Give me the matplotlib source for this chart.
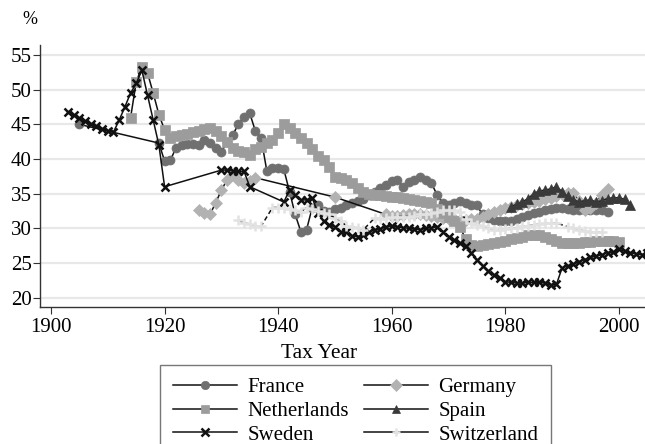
import matplotlib
matplotlib.use('Agg')
import matplotlib.pyplot as plt
from matplotlib.lines import Line2D

plt.rcParams['font.family'] = ['Liberation Serif', 'DejaVu Serif']

# --- dados (%)
fr_anos = [1905, 1919, 1920, 1921, 1922, 1923, 1924, 1925, 1926, 1927, 1928, 1929, 1930,
           1931, 1932, 1933, 1934, 1935, 1936, 1937, 1938, 1939, 1940, 1941, 1942, 1943,
           1944, 1945, 1946, 1947, 1948, 1949, 1950, 1951, 1952, 1953, 1954, 1955, 1956,
           1957, 1958, 1959, 1960, 1961, 1962, 1963, 1964, 1965, 1966, 1967, 1968, 1969,
           1970, 1971, 1972, 1973, 1974, 1975, 1976, 1977, 1978, 1979, 1980, 1981, 1982,
           1983, 1984, 1985, 1986, 1987, 1988, 1989, 1990, 1991, 1992, 1993, 1994, 1995,
           1996, 1997, 1998]
fr_val = [45.0, 42.3, 39.7, 39.8, 41.6, 42.0, 42.2, 42.1, 42.0, 42.8, 42.3, 41.6, 41.0,
          42.5, 43.5, 45.0, 46.1, 46.6, 44.0, 43.0, 38.3, 38.7, 38.7, 38.5, 35.3, 32.0,
          29.5, 29.8, 33.0, 33.4, 32.5, 32.4, 32.8, 33.0, 33.3, 33.7, 34.0, 34.3, 34.8,
          35.3, 35.8, 36.3, 36.8, 37.0, 36.0, 36.7, 37.0, 37.4, 37.0, 36.5, 34.8, 33.6,
          33.4, 33.7, 34.0, 33.6, 33.4, 33.3, 32.0, 31.5, 31.2, 31.0, 31.0, 31.1, 31.3,
          31.6, 31.9, 32.2, 32.4, 32.6, 32.8, 33.0, 32.9, 32.8, 32.7, 32.7, 32.6, 32.6,
          32.7, 32.6, 32.4]

de_anos = [1926, 1927, 1928, 1929, 1930, 1931, 1932, 1933, 1934, 1935, 1936, 1950, 1959,
           1960, 1961, 1962, 1963, 1964, 1965, 1966, 1967, 1968, 1969, 1970, 1971, 1972,
           1973, 1974, 1975, 1976, 1977, 1978, 1979, 1980, 1981, 1982, 1983, 1984, 1985,
           1986, 1987, 1988, 1989, 1990, 1991, 1992, 1993, 1994, 1995, 1996, 1997, 1998]
de_val = [32.6, 32.2, 32.0, 33.7, 35.5, 37.0, 37.8, 37.0, 36.5, 36.8, 37.3, 34.5, 32.0,
          31.8, 31.8, 31.9, 32.0, 32.0, 32.0, 31.9, 31.8, 31.6, 31.5, 31.4, 31.3, 31.2,
          31.2, 31.3, 31.4, 31.7, 32.1, 32.4, 32.7, 32.9, 33.1, 33.3, 33.5, 33.7, 33.8,
          34.0, 34.2, 34.4, 34.7, 35.0, 35.1, 35.1, 34.0, 32.7, 33.0, 33.7, 34.8, 35.7]

nl_anos = list(range(1914, 2001))
nl_val = [45.9, 51.1, 53.3, 52.4, 49.5, 46.4, 44.2, 43.0, 43.3, 43.5, 43.6, 43.9, 44.0,
          44.3, 44.5, 44.0, 43.3, 42.4, 41.6, 41.2, 41.0, 40.6, 41.5, 41.8, 42.3, 42.8,
          43.8, 45.0, 44.5, 43.8, 43.0, 42.3, 41.4, 40.5, 39.8, 38.8, 37.4, 37.3, 37.0,
          36.5, 35.8, 35.3, 34.9, 34.8, 34.8, 34.6, 34.5, 34.5, 34.4, 34.2, 34.1, 33.9,
          33.8, 33.6, 32.8, 32.2, 31.7, 31.0, 30.2, 28.5, 27.6, 27.5, 27.6, 27.7, 27.9,
          28.0, 28.2, 28.4, 28.6, 28.8, 29.0, 29.1, 29.0, 28.7, 28.4, 28.1, 27.9, 27.9,
          27.9, 27.9, 28.0, 28.0, 28.1, 28.1, 28.1, 28.1, 28.0]

es_anos = list(range(1981, 2003))
es_val = [33.1, 33.5, 33.8, 34.3, 35.0, 35.4, 35.5, 35.7, 36.0, 35.3, 34.6, 34.1, 33.8,
          34.0, 34.1, 33.8, 34.0, 34.3, 34.4, 34.4, 34.2, 33.4]

se_anos = [1903, 1904, 1905, 1906, 1907, 1908, 1909, 1910, 1911, 1912, 1913, 1914, 1915,
           1916, 1917, 1918, 1919, 1920, 1930, 1931, 1932, 1933, 1934, 1935, 1941, 1942,
           1943, 1944, 1945, 1946, 1947, 1948, 1949, 1950, 1951, 1952, 1953, 1954, 1955,
           1956, 1957, 1958, 1959, 1960, 1961, 1962, 1963, 1964, 1965, 1966, 1967, 1968,
           1969, 1970, 1971, 1972, 1973, 1974, 1975, 1976, 1977, 1978, 1979, 1980, 1981,
           1982, 1983, 1984, 1985, 1986, 1987, 1988, 1989, 1990, 1991, 1992, 1993, 1994,
           1995, 1996, 1997, 1998, 1999, 2000, 2001, 2002, 2003, 2004, 2005]
se_val = [46.8, 46.3, 45.9, 45.5, 45.1, 44.8, 44.4, 44.1, 43.9, 45.6, 47.5, 49.5, 50.9,
          52.8, 49.2, 45.6, 42.0, 36.0, 38.4, 38.4, 38.3, 38.2, 38.2, 36.0, 33.8, 35.5,
          34.8, 34.1, 34.1, 34.4, 32.2, 31.0, 30.5, 30.2, 29.5, 29.4, 28.9, 28.8, 29.1,
          29.4, 29.8, 29.9, 30.2, 30.3, 30.2, 30.1, 30.0, 29.9, 29.8, 30.0, 30.1, 30.2,
          29.5, 28.8, 28.3, 27.9, 27.4, 26.5, 25.5, 24.6, 23.8, 23.3, 22.9, 22.3, 22.2,
          22.1, 22.1, 22.2, 22.2, 22.2, 22.1, 21.8, 21.9, 24.3, 24.6, 24.8, 25.2, 25.5,
          25.8, 26.0, 26.2, 26.5, 26.6, 27.0, 26.7, 26.5, 26.3, 26.2, 26.4]

ch_anos = [1933, 1934, 1935, 1936, 1937, 1939, 1940, 1941, 1942, 1943, 1944, 1945, 1946,
           1947, 1948, 1949, 1950, 1951, 1952, 1953, 1954, 1955, 1957, 1958, 1959, 1960,
           1961, 1962, 1963, 1964, 1965, 1966, 1967, 1968, 1969, 1970, 1971, 1972, 1973,
           1974, 1975, 1976, 1977, 1978, 1979, 1980, 1981, 1982, 1983, 1984, 1985, 1986,
           1987, 1988, 1989, 1991, 1992, 1993, 1994, 1995, 1996, 1997]
ch_val = [31.2, 30.8, 30.6, 30.4, 30.3, 33.0, 33.0, 32.9, 32.8, 32.6, 32.4, 33.0, 32.8,
          32.5, 32.2, 32.0, 31.5, 31.0, 30.4, 30.2, 30.0, 29.8, 31.5, 31.3, 31.5, 31.6,
          31.7, 31.7, 31.7, 31.8, 32.0, 32.1, 32.2, 32.4, 32.7, 32.7, 32.6, 32.4, 31.3,
          30.7, 30.5, 30.3, 30.0, 29.8, 29.8, 29.9, 30.0, 30.1, 30.3, 30.4, 30.5, 30.6,
          30.7, 30.8, 30.8, 30.2, 30.0, 29.8, 29.6, 29.5, 29.4, 29.5]

# (nome, anos, valores, marcador, cor, tamanho, estilo da linha)
series = [
    ('France', fr_anos, fr_val, 'o', '#707070', 6.5, '-'),
    ('Germany', de_anos, de_val, 'D', '#b2b2b2', 6.5, '-'),
    ('Netherlands', nl_anos, nl_val, 's', '#9c9c9c', 7.5, '-'),
    ('Spain', es_anos, es_val, '^', '#3a3a3a', 7.5, '-'),
    ('Sweden', se_anos, se_val, 'x', '#111111', 5.5, '-'),
    ('Switzerland', ch_anos, ch_val, '+', '#e2e2e2', 7, (0, (3, 2))),
]

fig = plt.figure(figsize=(6.45, 4.44), dpi=100)
ax = fig.add_axes([40/645, 1-307/444, 605/645, 262/444])

handles = {}
for nome, anos, val, mk, cor, ms, ls in series:
    ax.plot(anos, val, color='#111111', lw=1.1, ls=ls, marker=mk, ms=ms,
            mfc=cor, mec=cor, mew=1.8 if mk in 'x+' else 0.5)
    handles[nome] = Line2D([], [], color='#111111', lw=1.1, marker=mk, ms=6,
                           mfc=cor, mec=cor, mew=1.8 if mk in 'x+' else 0.5)

ax.set_xlim(1898.06, 2004.6)
ax.set_ylim(18.65, 56.45)
ax.set_yticks(range(20, 56, 5))
ax.set_xticks(range(1900, 2001, 20))
ax.yaxis.grid(True, color='#e8e8e8', lw=1.6)
ax.set_axisbelow(True)
for s in ['top', 'right']:
    ax.spines[s].set_visible(False)
for s in ['left', 'bottom']:
    ax.spines[s].set_color('#333333')
    ax.spines[s].set_linewidth(1.0)
ax.tick_params(labelsize=15, length=5, color='#333333', pad=1)
ax.tick_params(axis='x', pad=3)

fig.text(319/645, 1-354/444, 'Tax Year', ha='center', va='center', fontsize=15.5)
fig.text(30/645, 1-19/444, '%', ha='center', va='center', fontsize=13)

ordem = ['France', 'Netherlands', 'Sweden', 'Germany', 'Spain', 'Switzerland']
leg = fig.legend([handles[n] for n in ordem], ordem, ncol=2, loc='upper left',
                 bbox_to_anchor=(160/645, 1-365/444), borderaxespad=0,
                 fontsize=15, handlelength=3.1, handletextpad=0.5, columnspacing=0.7,
                 labelspacing=0.2, borderpad=0.6, fancybox=False, frameon=True)
leg.get_frame().set_edgecolor('#555555')
leg.get_frame().set_linewidth(1.0)

plt.savefig('out.png', dpi=100)
